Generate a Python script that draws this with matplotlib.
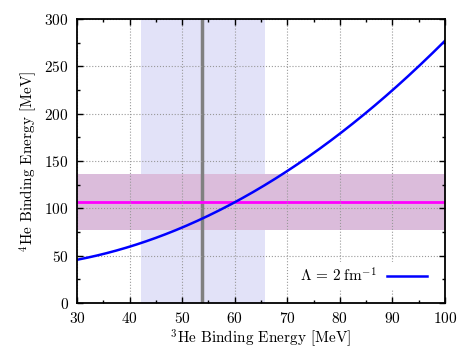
import numpy as np
import matplotlib
matplotlib.use("Agg")
import matplotlib.pyplot as plt
from matplotlib.ticker import MultipleLocator

plt.rcParams['font.family'] = 'serif'
plt.rcParams['font.serif'] = ['cmr10']
plt.rcParams['mathtext.fontset'] = 'cm'
plt.rcParams['axes.formatter.use_mathtext'] = True

# Data
he3 = [30, 40, 50, 54, 60, 70, 80, 90, 100]
he4 = [45.5, 60.3, 80.0, 88.0, 107.0, 138.8, 179.3, 225.9, 276.2]
he3_band = (42.2, 65.7)
he3_exp = 53.8
he4_band = (77.2, 136.0)
he4_exp = 106.8
legend_label = r'$\Lambda\,=\,2\;\mathrm{fm}^{-1}$'

fig = plt.figure(figsize=(4.69, 3.52), dpi=100)
ax = fig.add_axes([77/469, 1-303/352, (445-77)/469, (303-19)/352])

ax.axvspan(*he3_band, color='#e2e2f8', zorder=0, lw=0)
ax.axhspan(*he4_band, color='#dbbcdb', zorder=0.5, lw=0)
ax.axvline(he3_exp, color='#808080', lw=2.5, zorder=2)
ax.axhline(he4_exp, color='#ff00ff', lw=2.0, zorder=2)

xs = np.linspace(30, 100, 300)
coef = np.polyfit(he3, he4, 2)
ys = np.polyval(coef, xs)
ax.plot(xs, ys, color='#0000ff', lw=1.8, label=legend_label, zorder=3)

ax.set_xlim(30, 100)
ax.set_ylim(0, 300)
ax.xaxis.set_major_locator(MultipleLocator(10))
ax.xaxis.set_minor_locator(MultipleLocator(5))
ax.yaxis.set_major_locator(MultipleLocator(50))
ax.yaxis.set_minor_locator(MultipleLocator(25))
ax.tick_params(which='both', direction='in', top=True, right=True, labelsize=11)
ax.tick_params(which='major', length=4, width=1)
ax.tick_params(which='minor', length=2, width=1)
ax.tick_params(axis='x', which='major', pad=6)
ax.tick_params(axis='y', which='major', pad=6)
ax.grid(True, which='major', color='#999999', ls=':', lw=0.8, zorder=1)
ax.set_axisbelow(False)
for s in ax.spines.values():
    s.set_linewidth(1.3)
    s.set_zorder(5)

ax.set_xlabel(r'$^3$He Binding Energy [MeV]', fontsize=11, labelpad=1)
ax.set_ylabel(r'$^4$He Binding Energy [MeV]', fontsize=11)

leg = ax.legend(loc='lower right', frameon=True, fontsize=11, handlelength=2.6,
                handletextpad=0.7, markerfirst=False, borderaxespad=0.9,
                borderpad=0.3)
leg.get_frame().set_edgecolor('none')
leg.get_frame().set_facecolor('white')
leg.get_frame().set_alpha(1)
leg.set_zorder(4)

fig.savefig('out.png', dpi=100)
